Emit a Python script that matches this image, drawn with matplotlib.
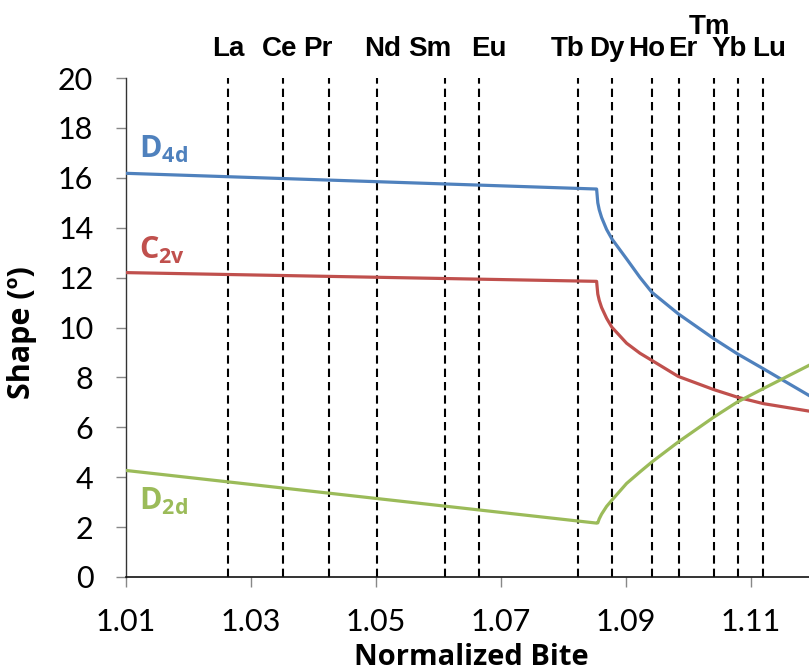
import matplotlib
matplotlib.use("Agg")
import matplotlib.pyplot as plt
import matplotlib.transforms as mtransforms

plt.rcParams["mathtext.fontset"] = "custom"
plt.rcParams["mathtext.rm"] = "Open Sans"
plt.rcParams["mathtext.bf"] = "Open Sans:bold"

# ---------------- data ----------------
bite = [1.0100, 1.08531, 1.08550, 1.08573, 1.08611, 1.08691, 1.08776, 1.09011,
        1.09224, 1.09416, 1.09837, 1.10408, 1.10781, 1.11197, 1.11928]
d4d = [16.18, 15.55, 15.00, 14.72, 14.41, 13.93, 13.55, 12.75,
       12.01, 11.41, 10.55, 9.55, 8.95, 8.35, 7.28]
c2v = [12.20, 11.85, 11.34, 11.09, 10.80, 10.37, 10.01, 9.37,
       8.97, 8.68, 8.04, 7.51, 7.21, 6.95, 6.65]
d2d = [4.27, 2.16, 2.17, 2.33, 2.52, 2.83, 3.08, 3.75,
       4.21, 4.61, 5.41, 6.41, 7.01, 7.55, 8.48]

elements = ["La", "Ce", "Pr", "Nd", "Sm", "Eu", "Tb", "Dy", "Ho", "Er", "Tm", "Yb", "Lu"]
element_bite = [1.0263, 1.0351, 1.0425, 1.0502, 1.0610, 1.0665,
                1.0824, 1.0878, 1.0942, 1.0985, 1.1041, 1.1079, 1.1120]

x_ticks = [1.01, 1.03, 1.05, 1.07, 1.09, 1.11]
y_ticks = [0, 2, 4, 6, 8, 10, 12, 14, 16, 18, 20]

# ---------------- style ----------------
BLUE = "#4F81BD"
RED = "#C0504D"
GREEN = "#9BBB59"
tick_font = "Lato"
label_font = "Liberation Sans"

fig = plt.figure(figsize=(8.09, 6.71), dpi=100)
ax = fig.add_axes([126 / 809, 94 / 671, 683 / 809, 499 / 671])

for xv in element_bite:
    ax.axvline(xv, color="black", lw=1.5, ls=(0, (4.0, 2.4)), zorder=1)

ax.plot(bite, d4d, color=BLUE, lw=2.3, zorder=3, solid_joinstyle="round")
ax.plot(bite, c2v, color=RED, lw=2.3, zorder=3, solid_joinstyle="round")
ax.plot(bite, d2d, color=GREEN, lw=2.3, zorder=3, solid_joinstyle="round")

ax.set_xlim(1.01, 1.1193)
ax.set_ylim(0, 20)
ax.set_xticks(x_ticks)
ax.set_xticklabels([f"{v:.2f}" for v in x_ticks], fontsize=22, family=tick_font)
ax.set_yticks(y_ticks)
ax.set_yticklabels([str(v) for v in y_ticks], fontsize=22, family=tick_font)
ax.tick_params(axis="both", direction="out", length=7.5, width=1, color="#888888")
ax.tick_params(axis="x", pad=15)
ax.tick_params(axis="y", pad=16)

for s in ["top", "right"]:
    ax.spines[s].set_visible(False)
ax.spines["left"].set_color("#333333")
ax.spines["bottom"].set_color("#111111")
ax.spines["left"].set_linewidth(1.0)
ax.spines["bottom"].set_linewidth(1.2)

ax.set_xlabel("Normalized Bite", fontsize=21, fontweight="bold", family="Open Sans")
ax.xaxis.label.set_va("baseline")
ax.xaxis.set_label_coords(0.505, -0.1764)
ax.set_ylabel("Shape (º)", fontsize=22, fontweight="bold", family="Open Sans")
ax.yaxis.set_label_coords(-0.1303, 0.49)

# element labels on top
trans = mtransforms.blended_transform_factory(ax.transData, ax.transAxes)
label_dx = [0, -2, -8, 4, -11, 7, -8, -4, -4, 3, -3, -6, 4]
label_row = [0, 0, 0, 0, 0, 0, 0, 0, 0, 0, 1, 0, 0]
for name, xv, dx, row in zip(elements, element_bite, label_dx, label_row):
    y = 1.058 if row == 0 else 1.103
    ax.text(xv, y, name,
            transform=trans + mtransforms.ScaledTranslation(dx / 72, 0, fig.dpi_scale_trans),
            ha="center", va="center", fontsize=20, fontweight="bold", family=label_font,
            clip_on=False)

# series labels
ax.text(1.0121, 16.8, r"$\mathbf{D_{4d}}$", color=BLUE, fontsize=22, ha="left", va="baseline")
ax.text(1.0121, 12.76, r"$\mathbf{C_{2v}}$", color=RED, fontsize=22, ha="left", va="baseline")
ax.text(1.0121, 2.68, r"$\mathbf{D_{2d}}$", color=GREEN, fontsize=22, ha="left", va="baseline")

fig.savefig("out.png", dpi=100)
